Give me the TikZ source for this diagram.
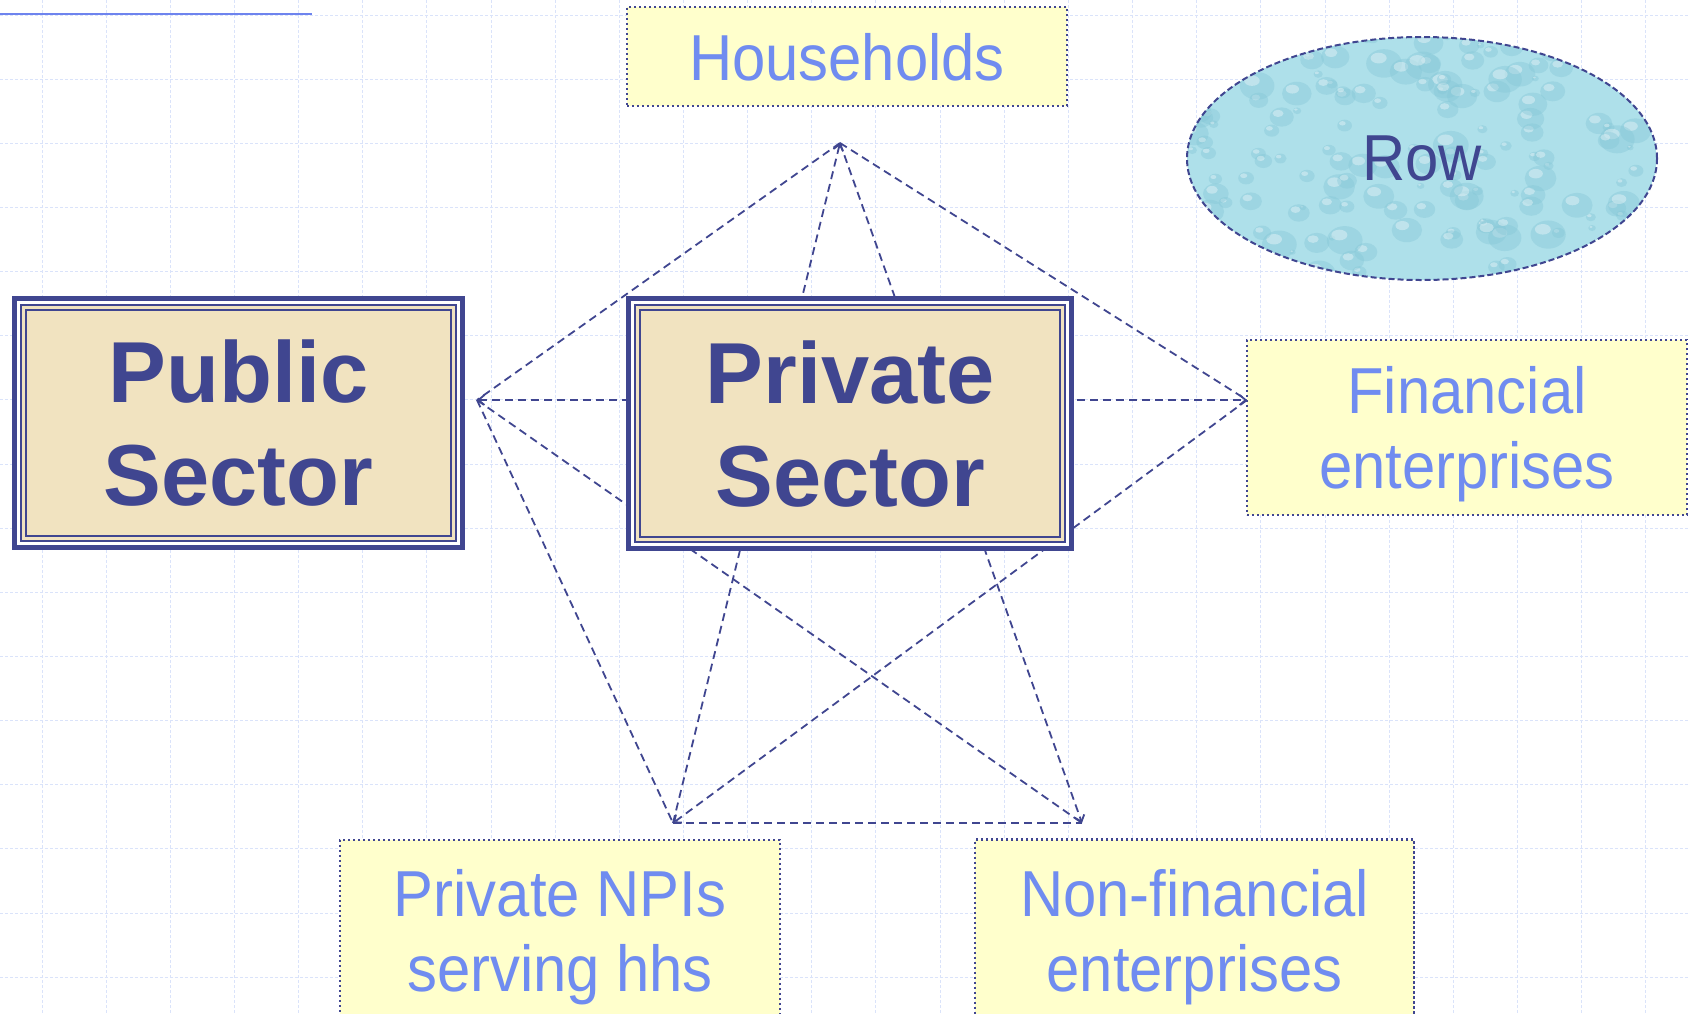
\documentclass[tikz,border=0pt]{standalone}
\usepackage{fontspec}
\setmainfont{Liberation Sans}
\newfontfamily\slidefont[FakeStretch=0.92]{Liberation Sans}
\usetikzlibrary{shapes.geometric, arrows.meta, positioning, calc}

\definecolor{navy}{RGB}{64,70,144}
\definecolor{textblue}{RGB}{112,140,240}
\definecolor{paleyellow}{RGB}{255,255,204}
\definecolor{beige}{RGB}{241,227,192}
\definecolor{gridblue}{RGB}{218,227,250}
\definecolor{water}{RGB}{174,224,234}
\definecolor{drop}{RGB}{132,198,214}
\definecolor{rulerblue}{RGB}{110,132,238}

\begin{document}
\begin{tikzpicture}[x=0.5pt, y=-0.5pt,
    gridline/.style={draw=gridblue, line width=0.5pt, dash pattern=on 1.5pt off 1pt},
    link/.style={draw=navy, line width=0.9pt, dash pattern=on 4pt off 2.5pt,
        >={Straight Barb[length=3pt,width=5pt]}},
    notebox/.style={draw=navy, fill=paleyellow, line width=1.2pt,
        dash pattern=on 1.2pt off 1.3pt, text=textblue, align=center, inner sep=0pt,
        font=\slidefont\fontsize{32.5}{37.5}\selectfont},
    sector/.style={fill=beige, text=navy, align=center, inner sep=0pt, text depth=-7.5pt,
        font=\bfseries\fontsize{43.3}{51.5}\selectfont},
    rowblob/.style={ellipse, draw=navy, line width=1pt, dash pattern=on 3pt off 1.5pt,
        minimum width=235pt, minimum height=121.5pt, inner sep=0pt, text=navy,
        font=\slidefont\fontsize{32.5}{37.5}\selectfont}
]
    \useasboundingbox (0,0) rectangle (1690,1013);
    \clip (0,0) rectangle (1690,1013);

    % background grid
    \foreach \i in {0,...,26}
        \draw[gridline] ({42+\i*64.15},0) -- ({42+\i*64.15},1013);
    \foreach \j in {0,...,15}
        \draw[gridline] (0,{15+\j*64.15}) -- (1690,{15+\j*64.15});
    \draw[rulerblue, line width=1pt] (0,13.7) -- (312,13.7);

    % pentagon corners
    \coordinate (v1) at (840,143);
    \coordinate (v2) at (477,400);
    \coordinate (v3) at (1247,400);
    \coordinate (v4) at (673,823);
    \coordinate (v5) at (1082,823);

    % links between the corners
    \foreach \a/\b in {v1/v2, v1/v3, v2/v4, v2/v5, v4/v5}
        \draw[link] (\a) -- (\b);
    \draw[link, <->] (v2) -- (v3);
    \draw[link, ->] (v3) -- (v4);
    \draw[link, ->] (v1) -- (v5);
    \draw[link, ->] (v4) -- (v1);

    % sectors
    \node[sector, minimum width=226.5pt, minimum height=127pt] (public) at (238.5,423) {Public\\Sector};
    \node[sector, minimum width=224pt, minimum height=127.5pt] (private) at (850,423.5) {Private\\Sector};
    \foreach \s in {public, private}
        \foreach \d/\w/\c in {2.5/2.5pt/navy, 6.5/1.5pt/white, 9.25/1.25pt/navy, 14/1pt/navy}
            \draw[\c, line width=\w] ($(\s.north west)+(\d,\d)$) rectangle ($(\s.south east)-(\d,\d)$);

    % sub-sectors
    \node[notebox, minimum width=220pt, minimum height=49.5pt, text depth=-3.2pt] (hh) at (847,56.5) {Households};
    \node[notebox, minimum width=220pt, minimum height=87.5pt, text depth=-0.7pt] (fin) at (1467,427.5) {Financial\\enterprises};
    \node[notebox, minimum width=220pt, minimum height=100pt, text depth=10pt] (npi) at (560,940) {Private NPIs\\serving hhs};
    \node[notebox, minimum width=219.5pt, minimum height=100pt, text depth=9pt] (nonfin) at (1194.5,939.5) {Non-financial\\enterprises};

    % rest of the world, water texture
    \begin{scope}
        \clip (1422,158.5) ellipse [x radius=235, y radius=121.5];
        \fill[water] (1422,158.5) ellipse [x radius=235, y radius=121.5];
        \pgfmathsetseed{11}
        \foreach \i in {1,...,160}{
            \pgfmathsetmacro{\px}{1187+470*rnd}
            \pgfmathsetmacro{\py}{37+243*rnd}
            \pgfmathsetmacro{\dr}{3+15*rnd}
            \fill[drop, opacity=0.4] (\px,\py) ellipse [x radius=\dr, y radius=0.8*\dr];
            \fill[white, opacity=0.35] (\px-0.3*\dr,\py-0.3*\dr) ellipse [x radius=0.45*\dr, y radius=0.3*\dr];
        }
    \end{scope}
    \node[rowblob] (row) at (1422,158.5) {Row};
\end{tikzpicture}
\end{document}
